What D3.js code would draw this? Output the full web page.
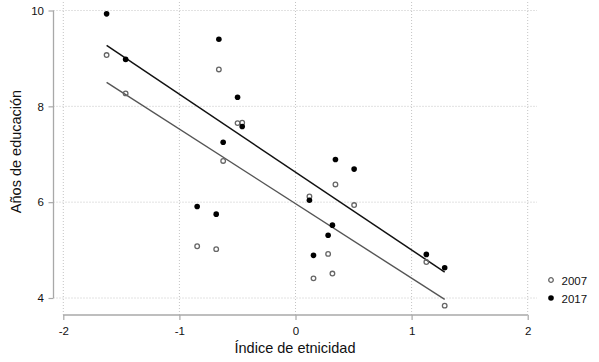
<!DOCTYPE html>
<html>
<head>
<meta charset="utf-8">
<script src="https://cdn.jsdelivr.net/npm/d3@7"></script>
<style>
  body { margin: 0; background: #fff; }
  svg { display: block; font-family: "Liberation Sans", Arial, sans-serif; }
</style>
</head>
<body>
<div id="chart"></div>
<script>
// ethnicity index per region (same regions both years)
const ethnicity = [-1.627, -1.463, -0.660, -0.499, -0.459, -0.623, -0.847, -0.683,
                   0.344, 0.505, 0.120, 0.318, 0.281, 0.155, 1.127, 1.285];
const educ2007 = [9.07, 8.27, 8.77, 7.65, 7.66, 6.86, 5.08, 5.02,
                  6.37, 5.94, 6.12, 4.51, 4.92, 4.41, 4.75, 3.84];
const educ2017 = [9.93, 8.98, 9.40, 8.19, 7.58, 7.25, 5.91, 5.75,
                  6.89, 6.69, 6.04, 5.52, 5.31, 4.89, 4.91, 4.63];

// fitted lines at the ends of the data range
const fitX = [-1.627, 1.285];
const fit2007 = [8.50, 3.97];
const fit2017 = [9.27, 4.54];

const xTicks = [-2, -1, 0, 1, 2];
const yTicks = [4, 6, 8, 10];
const years = ["2007", "2017"];

const width = 599, height = 362;
const svg = d3.select("#chart").append("svg")
    .attr("width", width)
    .attr("height", height);

const x = d3.scaleLinear().domain([-2, 2]).range([63.3, 527.7]);
const y = d3.scaleLinear().domain([4, 10]).range([298, 10.5]);

const plotLeft = 53.5, plotRight = 537, plotTop = 2, plotBottom = 315;

// plain hyphen for negatives, like the original
const fmt = d => String(d);

// grid
svg.append("g").selectAll("line").data(yTicks).join("line")
    .attr("x1", plotLeft).attr("x2", plotRight)
    .attr("y1", d => y(d)).attr("y2", d => y(d))
    .attr("stroke", "#c4c4c4").attr("stroke-dasharray", "1,2");
svg.append("g").selectAll("line").data(xTicks).join("line")
    .attr("x1", d => x(d)).attr("x2", d => x(d))
    .attr("y1", plotTop).attr("y2", plotBottom)
    .attr("stroke", "#c4c4c4").attr("stroke-dasharray", "1,2");

// axes
const xAxis = svg.append("g")
    .attr("transform", `translate(0,${plotBottom})`)
    .call(d3.axisBottom(x).tickValues(xTicks).tickSize(5).tickFormat(fmt));
const yAxis = svg.append("g")
    .attr("transform", `translate(${plotLeft},0)`)
    .call(d3.axisLeft(y).tickValues(yTicks).tickSize(5).tickFormat(fmt));

[xAxis, yAxis].forEach(g => {
    g.select(".domain").attr("stroke", "#a8a8a8").attr("stroke-width", 1.3);
    g.selectAll(".tick line").attr("stroke", "#a8a8a8").attr("stroke-width", 1.2);
    g.selectAll(".tick text").attr("fill", "#111")
        .style("font-size", "11.5px").style("font-family", "Liberation Sans, Arial, sans-serif");
});
xAxis.select(".domain").attr("d", `M${x(-2)},0H${x(2)}`);
xAxis.selectAll(".tick text").attr("y", 11.5);
yAxis.select(".domain").attr("d", `M0,${y(4)}V${y(10)}`);
yAxis.selectAll(".tick text").attr("x", -9.5);

// axis titles
svg.append("text")
    .attr("x", 295).attr("y", 353)
    .attr("text-anchor", "middle")
    .style("font-size", "14.5px").attr("fill", "#111")
    .text("Índice de etnicidad");
svg.append("text")
    .attr("transform", "translate(20.5,151.5) rotate(-90)")
    .attr("text-anchor", "middle")
    .style("font-size", "14.5px").attr("fill", "#111")
    .text("Años de educación");

// fitted lines
const line = d3.line().x(d => x(d[0])).y(d => y(d[1]));
svg.append("path")
    .attr("d", line(d3.zip(fitX, fit2007)))
    .attr("fill", "none").attr("stroke", "#555").attr("stroke-width", 1.4);
svg.append("path")
    .attr("d", line(d3.zip(fitX, fit2017)))
    .attr("fill", "none").attr("stroke", "#111").attr("stroke-width", 1.5);

// points
svg.append("g").selectAll("circle").data(d3.zip(ethnicity, educ2007)).join("circle")
    .attr("cx", d => x(d[0])).attr("cy", d => y(d[1])).attr("r", 2.3)
    .attr("fill", "none").attr("stroke", "#666").attr("stroke-width", 1.3);
svg.append("g").selectAll("circle").data(d3.zip(ethnicity, educ2017)).join("circle")
    .attr("cx", d => x(d[0])).attr("cy", d => y(d[1])).attr("r", 2.8)
    .attr("fill", "#000");

// legend
const legend = svg.append("g").selectAll("g").data(years).join("g")
    .attr("transform", (d, i) => `translate(551,${280 + i * 18})`);
legend.append("circle")
    .attr("r", d => d === "2007" ? 2.3 : 2.8)
    .attr("fill", d => d === "2007" ? "none" : "#000")
    .attr("stroke", d => d === "2007" ? "#666" : "none")
    .attr("stroke-width", 1.3);
legend.append("text")
    .attr("x", 10.5).attr("y", 4.5)
    .style("font-size", "11.5px").attr("fill", "#111")
    .text(d => d);
</script>
</body>
</html>
